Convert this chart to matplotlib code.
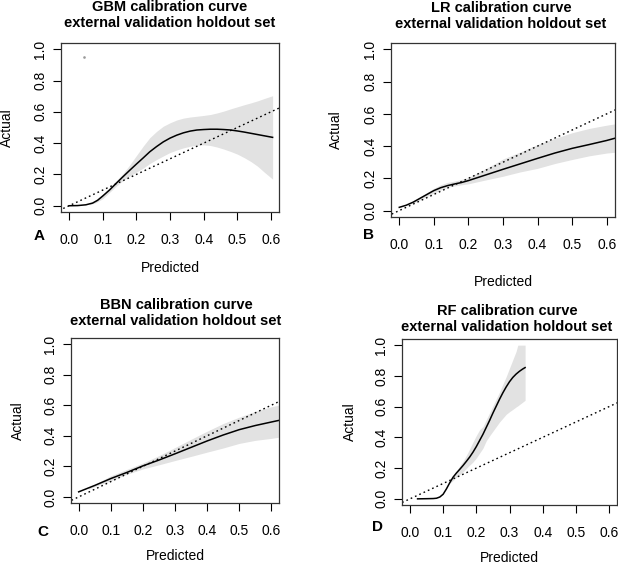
import numpy as np
import matplotlib
matplotlib.use("Agg")
import matplotlib.pyplot as plt

plt.rcParams['font.family'] = ['Liberation Sans', 'DejaVu Sans']

# ---- values: curve (x, y) and grey band (x, low, high)
gbm_x = [0.0, 0.025, 0.05, 0.07, 0.085, 0.10, 0.12, 0.14, 0.16, 0.18, 0.20, 0.22, 0.24, 0.26, 0.28,
         0.30, 0.32, 0.34, 0.36, 0.38, 0.40, 0.42, 0.44, 0.46, 0.48, 0.50, 0.52, 0.54, 0.56, 0.58, 0.605]
gbm_y = [0.0, 0.001, 0.006, 0.017, 0.035, 0.062, 0.10, 0.143, 0.185, 0.226, 0.266, 0.305, 0.345, 0.378, 0.408,
         0.432, 0.451, 0.466, 0.477, 0.484, 0.487, 0.489, 0.489, 0.487, 0.484, 0.478, 0.471, 0.463, 0.455, 0.447, 0.437]
gbm_bx = [0.06, 0.08, 0.10, 0.12, 0.14, 0.16, 0.18, 0.20, 0.22, 0.24, 0.26, 0.28, 0.30, 0.32, 0.34,
          0.36, 0.38, 0.40, 0.42, 0.44, 0.46, 0.48, 0.50, 0.52, 0.54, 0.56, 0.58, 0.605]
gbm_lo = [0.006, 0.02, 0.045, 0.085, 0.125, 0.16, 0.19, 0.215, 0.24, 0.27, 0.295, 0.318, 0.34, 0.356, 0.37,
          0.38, 0.387, 0.389, 0.385, 0.375, 0.362, 0.347, 0.33, 0.308, 0.283, 0.253, 0.215, 0.17]
gbm_hi = [0.010, 0.04, 0.075, 0.115, 0.16, 0.205, 0.26, 0.32, 0.38, 0.435, 0.475, 0.508, 0.53, 0.548, 0.56,
          0.567, 0.572, 0.577, 0.583, 0.593, 0.605, 0.619, 0.632, 0.645, 0.657, 0.67, 0.685, 0.703]
gbm_pt = (0.044, 0.95)

lr_x = [0.0, 0.02, 0.04, 0.06, 0.08, 0.10, 0.12, 0.14, 0.16, 0.18, 0.20, 0.25, 0.30, 0.35, 0.40,
        0.45, 0.50, 0.55, 0.60, 0.624]
lr_y = [0.02, 0.033, 0.052, 0.076, 0.10, 0.124, 0.142, 0.155, 0.165, 0.174, 0.186, 0.221, 0.256, 0.29, 0.324,
        0.357, 0.386, 0.41, 0.435, 0.449]
lr_bx = [0.03, 0.05, 0.08, 0.10, 0.12, 0.14, 0.16, 0.18, 0.20, 0.25, 0.30, 0.35, 0.40, 0.45, 0.50,
         0.55, 0.60, 0.624]
lr_lo = [0.04, 0.055, 0.088, 0.108, 0.128, 0.145, 0.153, 0.16, 0.166, 0.19, 0.213, 0.24, 0.262, 0.292, 0.317,
         0.34, 0.357, 0.362]
lr_hi = [0.045, 0.07, 0.112, 0.138, 0.16, 0.175, 0.183, 0.193, 0.205, 0.26, 0.32, 0.364, 0.41, 0.448, 0.483,
         0.51, 0.53, 0.538]

bbn_x = [0.0, 0.05, 0.10, 0.15, 0.20, 0.25, 0.30, 0.35, 0.40, 0.45, 0.50, 0.55, 0.60, 0.622]
bbn_y = [0.033, 0.075, 0.12, 0.16, 0.203, 0.241, 0.282, 0.324, 0.366, 0.405, 0.44, 0.467, 0.49, 0.5]
bbn_bx = [0.03, 0.05, 0.10, 0.15, 0.20, 0.25, 0.30, 0.35, 0.40, 0.45, 0.50, 0.55, 0.60, 0.622]
bbn_lo = [0.05, 0.068, 0.105, 0.148, 0.183, 0.21, 0.238, 0.265, 0.293, 0.32, 0.35, 0.37, 0.383, 0.39]
bbn_hi = [0.058, 0.082, 0.138, 0.18, 0.222, 0.27, 0.323, 0.377, 0.43, 0.48, 0.522, 0.56, 0.59, 0.6]

rf_x = [0.023, 0.05, 0.07, 0.08, 0.09, 0.10, 0.11, 0.12, 0.13, 0.14, 0.15, 0.16, 0.17, 0.18, 0.19,
        0.20, 0.21, 0.22, 0.23, 0.24, 0.25, 0.26, 0.27, 0.28, 0.29, 0.30, 0.31, 0.32, 0.33, 0.34, 0.347]
rf_y = [0.0, 0.001, 0.002, 0.004, 0.012, 0.03, 0.065, 0.105, 0.141, 0.168, 0.192, 0.217, 0.244, 0.272, 0.304,
        0.34, 0.38, 0.42, 0.465, 0.51, 0.558, 0.603, 0.648, 0.69, 0.728, 0.762, 0.79, 0.812, 0.83, 0.845, 0.854]
rf_bx = [0.12, 0.13, 0.14, 0.15, 0.16, 0.17, 0.18, 0.19, 0.20, 0.21, 0.22, 0.23, 0.24, 0.25, 0.26,
         0.27, 0.28, 0.29, 0.30, 0.31, 0.32, 0.325, 0.347]
rf_lo = [0.10, 0.12, 0.14, 0.158, 0.176, 0.198, 0.22, 0.24, 0.266, 0.298, 0.33, 0.378, 0.41, 0.44, 0.47,
         0.50, 0.525, 0.55, 0.567, 0.582, 0.598, 0.605, 0.641]
rf_hi = [0.11, 0.15, 0.18, 0.215, 0.245, 0.283, 0.325, 0.37, 0.412, 0.45, 0.47, 0.515, 0.56, 0.605, 0.65,
         0.695, 0.745, 0.795, 0.85, 0.905, 0.96, 1.0, 1.0]

W, H = 618, 565
fig = plt.figure(figsize=(W / 100, H / 100), dpi=100)

panels = [
    # model, curve, band, axes box (l, t, r, b px), title center, letter pos, xlabel y, ylabel x
    ("GBM", (gbm_x, gbm_y), (gbm_bx, gbm_lo, gbm_hi), (61, 43, 279, 212), (170, 15), (39, 236), 268, 7),
    ("LR", (lr_x, lr_y), (lr_bx, lr_lo, lr_hi), (391, 43, 615, 217), (501, 16), (368, 235), 282, 336),
    ("BBN", (bbn_x, bbn_y), (bbn_bx, bbn_lo, bbn_hi), (71, 338, 279, 503), (176, 313), (43, 532), 556, 18),
    ("RF", (rf_x, rf_y), (rf_bx, rf_lo, rf_hi), (402, 339, 617, 505), (507, 319), (378, 527), 558, 350),
]
letters = ["A", "B", "C", "D"]

for (name, curve, band, box, tpos, lpos, xl_y, yl_x), let in zip(panels, letters):
    l, t, r, b = box
    ax = fig.add_axes([l / W, 1 - b / H, (r - l) / W, (b - t) / H])
    ax.fill_between(band[0], band[1], band[2], color="#e2e2e2", lw=0)
    ax.plot([-1, 2], [-1, 2], color="black", lw=1.0, ls=(0, (1.2, 2.2)))
    ax.plot(curve[0], curve[1], color="black", lw=1.1)
    if name == "GBM":
        ax.plot([gbm_pt[0]], [gbm_pt[1]], marker="s", ms=0.8, color="#999999", lw=0)
    ax.set_xlim(-0.024, 0.624)
    ax.set_ylim(-0.04, 1.04)
    ax.set_xticks(np.arange(0, 0.61, 0.1))
    ax.set_yticks(np.arange(0, 1.01, 0.2))
    ax.set_xticklabels(["0.0", "0.1", "0.2", "0.3", "0.4", "0.5", "0.6"])
    ax.set_yticklabels(["0.0", "0.2", "0.4", "0.6", "0.8", "1.0"], rotation=90, va="center")
    ax.tick_params(axis="x", length=6, width=0.8, pad=9, labelsize=10)
    ax.tick_params(axis="y", length=6, width=0.8, pad=4, labelsize=10)
    for s in ax.spines.values():
        s.set_linewidth(0.9)
        s.set_color("#333333")
    fig.text(tpos[0] / W, 1 - tpos[1] / H,
             f"{name} calibration curve\nexternal validation holdout set",
             ha="center", va="center", fontsize=10.5, fontweight="bold", linespacing=1.15)
    fig.text(lpos[0] / W, 1 - lpos[1] / H, let, ha="center", va="center",
             fontsize=11, fontweight="bold")
    fig.text((l + r) / 2 / W, 1 - xl_y / H, "Predicted", ha="center", va="center", fontsize=10)
    fig.text(yl_x / W, 1 - (t + b) / 2 / H, "Actual", ha="center", va="center",
             rotation=90, fontsize=10)

fig.savefig("out.png", dpi=100)
